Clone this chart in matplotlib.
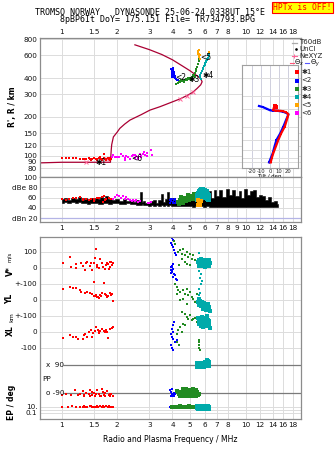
import numpy as np
import matplotlib.pyplot as plt
from matplotlib.ticker import NullLocator

W, H = 335, 451

# ---------------- ionogram echoes: frequency (MHz) / virtual range (km)
red_f = [1.0, 1.05, 1.1, 1.15, 1.2, 1.25, 1.3, 1.33, 1.36, 1.4, 1.43, 1.46, 1.5, 1.53, 1.56, 1.6,
         1.63, 1.66, 1.7, 1.72, 1.75, 1.78, 1.8, 1.83, 1.85, 1.45, 1.55, 1.65, 1.75, 1.82, 1.7, 1.62]
red_h = [96, 96, 96, 96, 96, 95, 95, 94, 95, 96, 94, 95, 96, 94, 95, 96,
         95, 94, 96, 95, 94, 96, 95, 96, 95, 92, 93, 92, 93, 92, 103, 98]
mag_f = [1.88, 1.9, 1.95, 2.0, 2.05, 2.1, 2.15, 2.2, 2.25, 2.3, 2.35, 2.4, 2.45, 2.5, 2.55, 2.6,
         2.65, 2.7, 2.75, 2.8, 2.85, 2.9, 3.05, 3.1, 2.2, 2.35, 2.5, 2.6, 2.7, 2.8, 2.9]
mag_h = [97, 102, 97, 98, 97, 104, 99, 96, 100, 97, 95, 99, 101, 102, 99, 97,
         103, 100, 104, 106, 101, 105, 110, 101, 93, 94, 96, 95, 98, 107, 100]
blue_f = [3.95, 3.97, 4.0, 4.02, 4.05, 4.08, 4.1, 3.98, 4.0, 4.05, 4.12, 4.15, 4.2, 4.25, 4.3, 3.96, 4.03, 4.07]
blue_h = [470, 455, 440, 480, 460, 430, 445, 420, 410, 405, 415, 400, 395, 390, 385, 440, 465, 425]
green_f = [4.2, 4.3, 4.4, 4.5, 4.6, 4.7, 4.8, 4.9, 5.0, 5.1, 5.2, 5.25, 5.3, 5.35, 5.4, 5.45,
           5.5, 5.55, 5.6, 4.45, 4.65, 4.85, 5.05, 5.15, 5.3, 4.35, 4.75]
green_h = [362, 368, 372, 378, 380, 385, 390, 392, 398, 405, 415, 425, 440, 455, 470, 490,
           515, 540, 565, 385, 370, 400, 385, 420, 410, 380, 395]
teal_f = [5.62, 5.68, 5.75, 5.8, 5.85, 5.9, 5.95, 6.0, 6.05, 6.1, 6.15, 6.2, 6.25, 6.3, 6.35, 5.7, 5.9, 6.1]
teal_h = [405, 420, 440, 455, 470, 482, 495, 508, 520, 535, 548, 560, 575, 590, 610, 395, 470, 540]
orange_f = [5.5, 5.52, 5.55, 5.58, 5.6, 5.62, 5.53, 5.57, 5.65, 6.3]
orange_h = [650, 630, 610, 595, 580, 565, 620, 660, 600, 640]

# electron density profile (plasma frequency, true height)
prof_f = [0.76, 1.0, 1.5, 1.84, 1.85, 1.86, 1.87, 1.91, 2.0, 2.07, 2.2, 2.35, 2.7, 3.02, 3.42, 3.87,
          4.4, 4.8, 5.15, 5.45, 5.7, 5.8, 5.7, 5.4, 5.0, 4.5, 4.0, 3.5, 3.0, 2.5]
prof_h = [88, 89, 89, 89, 100, 112, 122, 140, 152, 163, 176, 189, 208, 226, 240, 257,
          276, 293, 310, 333, 355, 375, 395, 420, 455, 500, 555, 610, 665, 725]
nexyz_f = [1.36, 1.76, 4.4, 4.8, 5.15]
nexyz_h = [90, 95, 276, 293, 310]

# tilt profiles (deg) vs height (km)
tiltx = [5.5, 7, 4, 3.6, 6, 10, 14, 17, 20, 19, 16, 12, 9, 6.5, 3.6, 2, 0.7]
tiltx_h = [322, 315, 305, 290, 288, 287, 284, 278, 266, 245, 201, 172, 149, 130, 111, 100, 90]
tilty = [-12, -8, -3.6, 0, 3, 7, 11, 14.5, 18, 20, 18, 14.5, 11, 7, 5, 3, 1, -1]
tilty_h = [319, 312, 300, 290, 287, 287, 284, 280, 272, 264, 240, 201, 172, 149, 130, 111, 100, 90]

# ---------------- amplitude (dB) vs frequency
amp_f = [1.0, 1.05, 1.1, 1.15, 1.2, 1.25, 1.3, 1.35, 1.4, 1.45,
         1.5, 1.55, 1.6, 1.65, 1.7, 1.75, 1.8, 1.85, 1.9, 2.0,
         2.1, 2.2, 2.3, 2.4, 2.5, 2.6, 2.7, 2.75, 2.8, 2.9,
         3.0, 3.1, 3.2, 3.3, 3.4, 3.5, 3.6, 3.7, 3.8, 3.9,
         4.0, 4.2, 4.4, 4.6, 4.8, 5.0, 5.2, 5.4, 5.6, 5.8,
         6.0, 6.2, 6.4, 6.6, 6.8, 7.0, 7.3, 7.6, 8.0, 8.3,
         8.6, 9.0, 9.3, 9.6, 10.0, 10.4, 10.8, 11.2, 11.6, 12.0,
         12.5, 13.0, 13.5, 14.0, 14.5, 15.0]
amp_hi = [57, 59, 55, 60, 57, 61, 56, 60, 57, 59,
          56, 60, 58, 62, 59, 63, 57, 58, 55, 57,
          54, 57, 53, 56, 52, 55, 70, 51, 53, 50,
          49, 53, 56, 50, 55, 67, 52, 57, 70, 56,
          60, 55, 59, 61, 57, 62, 63, 58, 60, 56,
          62, 66, 72, 60, 75, 64, 74, 62, 76, 66,
          74, 63, 73, 60, 77, 65, 72, 74, 62, 66,
          64, 56, 62, 52, 54, 48]
amp_lo = [50, 51, 49, 52, 50, 51, 49, 50, 48, 50,
          49, 50, 48, 47, 50, 49, 47, 48, 50, 49,
          48, 47, 49, 47, 48, 46, 45, 47, 46, 45,
          44, 45, 44, 46, 44, 45, 44, 45, 44, 45,
          44, 43, 44, 43, 44, 43, 42, 43, 44, 43,
          42, 43, 42, 41, 42, 41, 42, 41, 42, 41,
          42, 41, 42, 41, 42, 41, 42, 41, 42, 42,
          42, 41, 42, 41, 42, 42]
red_af = [1.0, 1.05, 1.1, 1.15, 1.2, 1.25, 1.3, 1.35, 1.4, 1.45, 1.5, 1.55, 1.6, 1.65, 1.7, 1.72,
          1.75, 1.8, 1.85, 1.3, 1.5, 1.68]
red_a = [57, 56, 58, 60, 59, 61, 57, 58, 56, 57, 58, 59, 60, 62, 63, 55, 57, 60, 58, 56, 54, 52]
mag_af = [1.9, 1.95, 2.0, 2.05, 2.1, 2.15, 2.2, 2.25, 2.3, 2.35, 2.4, 2.45, 2.5, 2.55, 2.6, 2.65, 2.95, 3.0, 3.05]
mag_a = [58, 62, 65, 64, 60, 63, 58, 62, 57, 55, 54, 56, 53, 55, 52, 54, 50, 49, 51]
blue_af = [3.88, 3.92, 3.95, 4.0, 4.05, 4.1, 4.15, 4.2, 3.9, 4.02, 4.12]
blue_a = [55, 57, 53, 58, 52, 55, 50, 54, 49, 50, 57]
green_af = [4.3, 4.4, 4.5, 4.6, 4.7, 4.8, 4.9, 5.0, 5.1, 5.2, 5.3, 5.4, 4.35, 4.55, 4.75, 4.95,
            5.15, 5.35, 4.45, 4.85, 5.25]
green_a = [52, 55, 57, 54, 60, 58, 62, 60, 64, 63, 66, 62, 48, 50, 53, 55, 58, 60, 62, 65, 68]
teal_af = [5.45, 5.5, 5.55, 5.6, 5.65, 5.7, 5.75, 5.8, 5.85, 5.9, 5.95, 6.0, 6.05, 6.1, 6.15, 6.2, 6.25, 6.3]
teal_a_top = [66, 69, 71, 73, 74, 75, 76, 76, 76, 76, 75, 75, 74, 73, 72, 70, 68, 66]
teal_a_mid = [62, 63, 64, 65, 66, 67, 68, 69, 70, 70, 69, 68, 67, 66, 65, 64, 63, 62]
teal_a_low = [56, 57, 58, 59, 60, 60, 61, 62, 63, 63, 62, 61, 60, 59, 58, 57, 56, 55]
orange_af = [5.5, 5.55, 5.6, 5.65, 5.7, 5.52, 5.62]
orange_a = [55, 52, 50, 48, 53, 46, 45]

# ---------------- V* (m/s), YL and XL (km)
red_vf = [1.01, 1.11, 1.13, 1.20, 1.20, 1.30, 1.34, 1.36, 1.38, 1.42, 1.44, 1.47, 1.49, 1.54, 1.55, 1.56,
          1.60, 1.62, 1.65, 1.68, 1.74, 1.77, 1.79, 1.82, 1.83, 1.87, 1.89, 1.27, 1.52, 1.72, 1.85, 1.80]
red_v = [33, 71, 8, 25, -2, 12, -12, 33, 40, 12, 33, -12, 29, 117, 18, 8,
         -2, 56, 33, 4, 18, 33, 25, 8, 40, 18, 29, 30, 65, -8, 35, -5]
red_yf = [1.01, 1.11, 1.15, 1.20, 1.26, 1.28, 1.34, 1.38, 1.42, 1.47, 1.50, 1.54, 1.56, 1.58, 1.62,
          1.65, 1.69, 1.74, 1.77, 1.82, 1.85, 1.87, 1.89, 1.60, 1.49, 1.52, 1.64, 1.71, 1.79, 1.84]
red_yl = [69, 83, 73, 73, 62, 52, 46, 52, 42, 37, 115, 31, 21, 17, 31,
          42, 104, 31, 21, 42, 31, 37, -6, 10, 25, 28, 24, 35, 27, 44]
red_xf = [1.01, 1.11, 1.15, 1.20, 1.22, 1.30, 1.32, 1.34, 1.38, 1.41, 1.44, 1.48, 1.51, 1.54,
          1.57, 1.60, 1.65, 1.69, 1.74, 1.77, 1.79, 1.83, 1.87, 1.89, 1.59, 1.47, 1.62, 1.71]
red_xl = [-35, -19, -29, -33, -42, -42, -19, -12, -29, 2, 12, -8, 8, 29,
          12, 2, 17, 8, 12, 2, -35, 17, 23, 29, -8, -29, 4, -3]
blue_vf = [3.96, 4.01, 3.91, 3.97, 4.04, 4.08, 4.13, 4.18, 4.04, 3.96, 4.01, 3.91, 3.97, 4.08,
           4.13, 4.04, 4.18, 4.22, 3.92, 3.94, 3.98, 3.93, 3.96]
blue_v = [187, 173, 158, 142, 131, 110, 96, 79, 23, 6, -4, -15, -25, -35,
          -46, -56, -67, -77, 5, -10, 15, -30, -20]
blue_xf = [4.08, 4.01, 3.96, 4.04, 3.91, 3.97, 4.04, 4.13, 4.22, 3.93, 3.98, 4.05]
blue_xl = [62, 42, 21, 0, -10, -31, -46, -62, -52, -80, -100, -112]
green_vf = [4.30, 4.39, 4.49, 4.58, 4.68, 4.77, 4.87, 4.98, 5.08, 5.19, 5.30, 5.41, 4.68, 4.77,
            4.98, 4.49, 4.36, 4.10, 4.15]
green_v = [100, 110, 90, 121, 79, 100, 69, 90, 58, 79, 48, 37, 37, 27, 17, 58, 17, 170, 150]
green_yf = [4.13, 4.22, 4.30, 4.39, 4.58, 4.68, 4.77, 4.87, 4.98, 5.08, 5.19, 5.30, 4.77, 4.58,
            4.39, 4.22, 5.41]
green_yl = [102, 81, 60, 50, 60, 40, 71, 29, 50, 19, 8, -12, -23, 8, -2, 40, 40]
green_xf = [4.49, 4.68, 4.77, 4.87, 4.98, 5.08, 5.19, 5.30, 5.41, 4.58, 4.39, 4.30, 4.22, 4.49,
            4.68, 5.55, 5.58, 5.60, 5.57, 5.62, 4.25, 4.35]
green_xl = [125, 115, 94, 83, 104, 73, 79, 87, 62, 52, 31, 10, -10, 0,
            42, -50, -65, -80, -100, -112, -60, -80]
teal_sf = [5.5, 5.55, 5.6, 5.65, 5.7, 5.75, 5.8, 5.85, 5.9, 5.95, 6.0, 6.05, 6.1, 6.15, 6.2, 6.25,
           6.3, 6.35, 6.4, 5.55, 5.65, 5.75, 5.85, 5.95, 6.05, 6.15, 6.25, 6.35]
teal_v = [40, 50, 30, 45, 35, 55, 40, 25, 50, 35, 45, 30, 50, 40, 20, 45,
          35, 50, 30, 15, 20, 10, 25, 15, 5, 20, 10, 15]
teal_yl = [-10, -20, -30, -5, -25, -40, -15, -35, -50, -20, -45, -30, -60, -40, -55, -25,
           -65, -45, -70, 5, -15, -35, -55, -20, -40, -60, -30, -50]
teal_xl = [90, 70, 50, 80, 60, 40, 95, 55, 30, 75, 45, 85, 65, 35, 100, 55,
           40, 70, 25, 60, 80, 45, 65, 50, 90, 35, 75, 55]
teal_vf2 = [5.6, 5.7, 5.65, 5.8, 5.75, 5.6]
teal_v2 = [-20, -40, -60, -80, -100, 92]
teal_yf2 = [5.55, 5.62, 5.58]
teal_yl2 = [70, 45, 30]

# ---------------- polarisation (deg) and EP (deg)
red_ppf = [1.0, 1.06, 1.12, 1.18, 1.22, 1.26, 1.3, 1.33, 1.36, 1.4, 1.43, 1.46, 1.5, 1.53, 1.56, 1.6,
           1.63, 1.66, 1.7, 1.73, 1.76, 1.8, 1.83, 1.86, 1.89, 1.32, 1.42, 1.52, 1.62, 1.72, 1.82, 1.47, 1.68]
red_pp = [-100, -97, -104, -72, -99, -93, -76, -102, -88, -96, -66, -101, -90, -96, -70, -92,
          -105, -62, -98, -91, -73, -101, -94, -97, -105, -108, -110, -106, -109, -107, -110, -82, -80]
red_epf = [1.0, 1.08, 1.14, 1.2, 1.26, 1.3, 1.34, 1.38, 1.42, 1.46, 1.5, 1.54, 1.58, 1.62, 1.66,
           1.7, 1.74, 1.78, 1.82, 1.86, 1.89, 1.32, 1.44, 1.56, 1.68, 1.8]
red_ep = [10, 9, 12, 10, 8, 11, 10, 9, 12, 10, 8, 11, 9, 13, 10, 8, 12, 9, 11, 10, 9, 15, 16, 14, 17, 15]
blue_ppf = [3.9, 3.93, 3.96, 4.0, 4.03, 4.06, 4.1, 4.14, 3.95, 4.02]
blue_pp = [-70, -80, -95, -62, -100, -88, -105, -92, -110, -108]
blue_epf = [3.9, 3.94, 3.98, 4.02, 4.06, 4.1, 4.15, 3.96, 4.04]
blue_ep = [10, 8, 12, 9, 11, 10, 8, 5, 6]
green_ppf = [4.25, 4.3, 4.35, 4.4, 4.45, 4.5, 4.55, 4.6, 4.65, 4.7, 4.75, 4.8, 4.85, 4.9, 4.95, 5.0,
             5.05, 5.1, 5.15, 5.2, 5.25, 5.3, 5.35, 5.4, 5.45, 5.5, 5.55, 5.6,
             4.4, 4.5, 4.6, 4.7, 4.8, 4.9, 5.0, 5.1, 5.2, 5.3, 5.4, 5.5,
             4.55, 4.75, 4.95, 5.15, 5.35]
green_pp = [-75, -85, -95, -80, -100, -90, -70, -95, -85, -100, -65, -90, -105, -80, -95, -88,
            -100, -70, -92, -98, -85, -100, -90, -95, -80, -100, -92, -96,
            -105, -102, -108, -104, -106, -103, -107, -105, -108, -104, -106, -102,
            -62, -60, -66, -64, -70]
green_epf = [4.0, 4.1, 4.2, 4.3, 4.4, 4.5, 4.6, 4.7, 4.8, 4.9, 5.0, 5.1, 5.2, 5.3, 5.4, 5.5, 5.6,
             4.25, 4.45, 4.65, 4.85, 5.05, 5.25, 5.45]
green_ep = [10, 9, 11, 10, 12, 9, 10, 11, 9, 12, 10, 8, 11, 10, 9, 12, 10, 8, 7, 8, 7, 8, 7, 8]
teal_pf = [5.45, 5.5, 5.55, 5.6, 5.65, 5.7, 5.75, 5.8, 5.85, 5.9, 5.95, 6.0, 6.05, 6.1, 6.15, 6.2,
           6.25, 6.3, 6.35]
teal_pp_a = [85, 90, 88, 92, 95, 90, 93, 88, 95, 92, 90, 94, 96, 100, 105, 110, 108, 102, 95]
teal_pp_b = [78, 80, 82, 80, 84, 82, 85, 80, 84, 82, 80, 83, 85, 88, 92, 98, 95, 90, 85]
teal_pp_c = [100, 98, 102, 100, 104, 100, 102, 98, 104, 100, 98, 103, 106, 112, 118, 120, 116, 110, 100]
teal_ep_a = [12, 10, 14, 11, 13, 10, 12, 15, 11, 13, 10, 12, 14, 11, 13, 10, 12, 11, 10]
teal_ep_b = [3, 2, 4, 3, 2.5, 3, 2, 3.5, 2.5, 3, 2, 3, 2.5, 3, 2, 3.5, 2.5, 3, 2]

top_ticks = [1, 1.5, 2, 3, 4, 5, 6, 7, 8, 10, 12, 14, 16, 18]
amp_ticks = [1, 1.5, 2, 3, 4, 5, 6, 7, 8, 9, 10, 12, 14, 16, 18]
range_ticks = [80, 90, 100, 120, 150, 200, 300, 400, 600, 800]

RED, BLUE, GREEN, TEAL, ORANGE, MAG = '#ff0000', '#0000ff', '#228b22', '#00aaaa', '#ffa500', '#ff00ff'
PROF = '#aa0033'
GRID = '#dcdcdc'
SPINE = '#8c8c8c'
FS = 5.2

plt.rcParams['font.family'] = ['DejaVu Sans']

fig = plt.figure(figsize=(W / 100, H / 100), dpi=100)


def box(x0, y0, x1, y1):
    return [x0 / W, 1 - y1 / H, (x1 - x0) / W, (y1 - y0) / H]


def freq_axis(ax, ticks, where):
    ax.set_xscale('log')
    ax.set_xlim(0.762, 20.0)
    ax.set_xticks(ticks, labels=[str(t) for t in ticks])
    ax.xaxis.set_minor_locator(NullLocator())
    ax.tick_params(axis='x', length=0, pad=2, labelsize=FS, colors='#111111')
    if where == 'top':
        ax.xaxis.tick_top()
    ax.tick_params(axis='y', length=0, pad=2, labelsize=FS, colors='#111111')
    for s in ax.spines.values():
        s.set_color(SPINE)
        s.set_linewidth(0.9)
    ax.grid(True, color=GRID, lw=0.7)
    ax.set_axisbelow(True)


def dots(ax, x, y, c, ms=1.7):
    ax.plot(x, y, 's', color=c, ms=ms, mew=0, ls='none')


# ---------------- top panel: ranges
ax1 = fig.add_axes(box(40, 38, 301, 177))
freq_axis(ax1, top_ticks, 'top')
ax1.set_yscale('log')
ax1.set_ylim(68.4, 819)
ax1.set_yticks(range_ticks, labels=[str(t) for t in range_ticks])
ax1.yaxis.set_minor_locator(NullLocator())
ax1.plot(prof_f, prof_h, color=PROF, lw=0.9)
ax1.plot(nexyz_f, nexyz_h, 'x', color='#ff6699', ms=2.5, mew=0.7)
dots(ax1, red_f, red_h, RED)
dots(ax1, mag_f, mag_h, MAG)
dots(ax1, green_f, green_h, GREEN)
dots(ax1, blue_f, blue_h, BLUE)
dots(ax1, teal_f, teal_h, TEAL)
dots(ax1, orange_f, orange_h, ORANGE)
lab = dict(fontsize=5.5, ha='left', va='center', color='black')
ax1.text(1.52, 89, '\u27311', **lab)
ax1.text(2.4, 95, '<6', **lab)
ax1.text(4.13, 405, '<2', **lab)
ax1.text(4.86, 392, '\u27313', **lab)
ax1.text(5.85, 420, '\u27314', **lab)
ax1.text(5.66, 578, '<5', **lab)

# ---------------- tilt inset
axi = fig.add_axes(box(241.7, 65, 297.7, 167.7))
axi.set_facecolor('white')
axi.set_yscale('log')
axi.set_ylim(80.8, 505.6)
axi.set_xlim(-30.8, 30.1)
axi.set_yticks(range_ticks, labels=[''] * len(range_ticks))
axi.yaxis.set_minor_locator(NullLocator())
axi.set_xticks([-20, -10, 0, 10, 20], labels=['-20', '-10', '0', '10', '20'])
axi.tick_params(length=0, pad=1, labelsize=3.8, colors='#222222')
axi.grid(True, color=GRID, lw=0.7)
axi.xaxis.grid(True, color='#c8c8d8', lw=0.6)
axi.set_axisbelow(True)
for s in axi.spines.values():
    s.set_color('#a0a0a0')
    s.set_linewidth(0.8)
axi.set_xlabel('Tilt / deg', fontsize=3.8, labelpad=0)
axi.plot(tilty, tilty_h, color=BLUE, lw=1.6, marker='s', ms=1.5, mew=0)
axi.plot(tiltx, tiltx_h, color=RED, lw=1.6, marker='s', ms=1.5, mew=0)
axi.plot(tiltx[:2], tiltx_h[:2], 's', color=RED, ms=3.5, mew=0)

# ---------------- amplitude panel
ax2 = fig.add_axes(box(40, 177, 301, 222))
freq_axis(ax2, amp_ticks, 'bottom')
ax2.set_ylim(12.8, 100)
ax2.set_yticks([20, 40, 60, 80, 100], labels=['dBn 20', '40', '60', 'dBe 80', '100'])
ax2.axhline(20, color='#b4b4e6', lw=0.9)
ax2.fill_between(amp_f, amp_lo, amp_hi, step='mid', color='black', lw=0.4, edgecolor='black')
dots(ax2, red_af, red_a, RED)
dots(ax2, mag_af, mag_a, MAG)
dots(ax2, blue_af, blue_a, BLUE)
dots(ax2, green_af, green_a, GREEN, ms=2.2)
for row in (teal_a_top, teal_a_mid, teal_a_low):
    dots(ax2, teal_af, row, TEAL, ms=3.2)
dots(ax2, orange_af, orange_a, ORANGE, ms=2.2)

# ---------------- V*, YL, XL, PP and EP panel (stacked on one axis)
ax3 = fig.add_axes(box(40, 237, 301, 419))
freq_axis(ax3, top_ticks, 'bottom')
ax3.set_ylim(-543.75, 593.75)
V0, Y0, X0 = 400, 200, 0


def pp_pos(v):
    return -294.5 + 0.983 * np.asarray(v, float)


def ep_pos(v):
    return -504 + 18.5 * (np.log10(np.asarray(v, float)) + 1)


ax3.set_yticks([500, 400, 300, 200, 100, 0, -100, -467, -487, -504],
               labels=['100', '0', '+-100', '0', '+-100', '0', '-100', '10.', '', '0.1'])
ax3.hlines([pp_pos(90), pp_pos(-90)], 1.02, 20.0, color='#7a7a7a', lw=0.9)

dots(ax3, red_vf, np.add(red_v, V0), RED)
dots(ax3, red_yf, np.add(red_yl, Y0), RED)
dots(ax3, red_xf, np.add(red_xl, X0), RED)
dots(ax3, blue_vf, np.add(blue_v, V0), BLUE)
dots(ax3, blue_xf, np.add(blue_xl, X0), BLUE)
dots(ax3, green_vf, np.add(green_v, V0), GREEN)
dots(ax3, green_yf, np.add(green_yl, Y0), GREEN)
dots(ax3, green_xf, np.add(green_xl, X0), GREEN)
dots(ax3, teal_sf, np.add(teal_v, V0), TEAL, ms=2.4)
dots(ax3, teal_sf, np.add(teal_yl, Y0), TEAL, ms=2.4)
dots(ax3, teal_sf, np.add(teal_xl, X0), TEAL, ms=2.4)
dots(ax3, teal_vf2, np.add(teal_v2, V0), TEAL)
dots(ax3, teal_yf2, np.add(teal_yl2, Y0), TEAL)

dots(ax3, red_ppf, pp_pos(red_pp), RED)
dots(ax3, red_epf, ep_pos(red_ep), RED)
dots(ax3, blue_ppf, pp_pos(blue_pp), BLUE)
dots(ax3, blue_epf, ep_pos(blue_ep), BLUE)
dots(ax3, green_ppf, pp_pos(green_pp), GREEN, ms=2.2)
dots(ax3, green_epf, ep_pos(green_ep), GREEN, ms=2.2)
for row in (teal_pp_a, teal_pp_b, teal_pp_c):
    dots(ax3, teal_pf, pp_pos(row), TEAL, ms=2.6)
for row in (teal_ep_a, teal_ep_b):
    dots(ax3, teal_pf, ep_pos(row), TEAL, ms=2.6)

# ---------------- overlay for titles, axis labels and legend (pixel coords)
ov = fig.add_axes([0, 0, 1, 1])
ov.set_xlim(0, W)
ov.set_ylim(H, 0)
ov.axis('off')
mono = dict(family='DejaVu Sans Mono', fontsize=6, ha='center', va='center')
ov.text(150, 12.5, 'TROMSO NORWAY   DYNASONDE 25-06-24 0338UT 15\u00b0E', **mono)
ov.text(157.5, 20, '8pBP6It DoY= 175.151 File= TR734793.BPG', **mono)
ov.text(302.5, 7.5, 'HPTx is OFF!', family='DejaVu Sans Mono', fontsize=5.8, color='red',
        ha='center', va='center',
        bbox=dict(boxstyle='square,pad=0.15', fc='#ffff00', ec='red', lw=0.8))

yl = dict(fontsize=5.5, rotation=90, ha='center', va='center', fontweight='bold')
ov.text(12, 107, "R', R / km", **yl)
ov.text(10, 271, 'V*', **yl)
ov.text(10, 257, 'm/s', fontsize=4, rotation=90, ha='center', va='center')
ov.text(10, 299, 'YL', **yl)
ov.text(12, 317, 'km', fontsize=4.5, rotation=90, ha='center', va='center')
ov.text(10, 331, 'XL', **yl)
ov.text(12, 402, 'EP / deg', **yl)
inner = dict(fontsize=FS, ha='left', va='center', color='#111111')
ov.text(46, 365, 'x  90', **inner)
ov.text(42, 379, 'PP', **inner)
ov.text(46, 393, 'o -90', **inner)
ov.text(170, 439, 'Radio and Plasma Frequency / MHz', fontsize=5.5, ha='center', va='center')

leg = dict(fontsize=5, ha='left', va='center', color='#222222')
ov.plot([291.5, 297], [42.5, 42.5], color='#aaaaaa', lw=0.9)
ov.text(299.5, 42.5, 'T60dB', **leg)
ov.plot([295.5], [49], 'o', color='black', ms=0.9)
ov.text(299.5, 49, 'UnCl', **leg)
ov.plot([291.5, 297], [55.5, 55.5], color='#ff6699', lw=0.8)
ov.plot([294.2], [55.5], '+', color='#ff6699', ms=3, mew=0.7)
ov.text(299.5, 55.5, 'NeXYZ', **leg)
ov.plot([290, 294], [63, 63], color='#ff5577', lw=0.8)
ov.text(294.5, 63, r'$\Theta_x$', fontsize=4.8, ha='left', va='center')
ov.plot([305, 309], [63, 63], color='#5555ff', lw=0.8)
ov.text(309.5, 63, r'$\Theta_y$', fontsize=4.8, ha='left', va='center')
keys = [('\u27311', RED), ('<2', BLUE), ('\u27313', GREEN), ('\u27314', TEAL), ('<5', ORANGE), ('<6', MAG)]
for i, (name, col) in enumerate(keys):
    yy = 72.3 + i * 8.2
    ov.plot([297.3], [yy], 's', color=col, ms=2.3, mew=0)
    ov.text(301.5, yy, name, **leg)

fig.savefig('out.png', dpi=100)
